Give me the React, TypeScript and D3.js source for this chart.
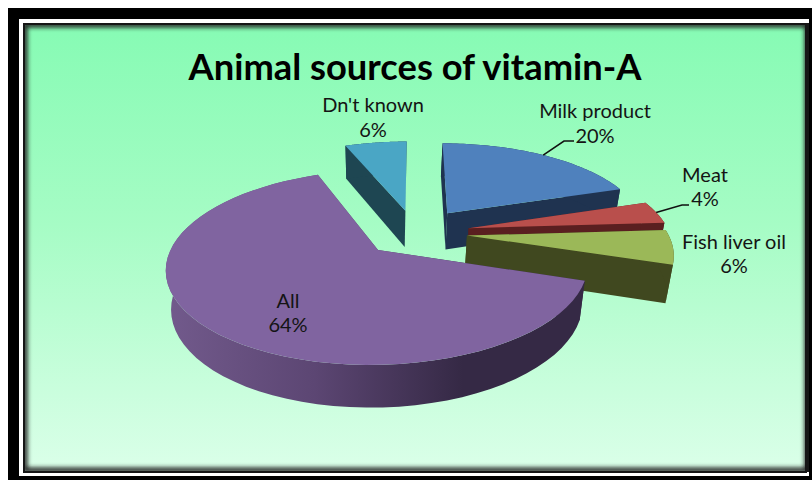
import React from "react";
import * as d3 from "d3";

// Chart data, in clockwise order from twelve o'clock
const categories = ["Milk product", "Meat", "Fish liver oil", "All", "Dn't known"];
const shares = [20, 4, 6, 64, 6];
const topColors = ["#4f81bd", "#b94f4c", "#9bb858", "#8064a0", "#4aa6c5"];
const wallColors = ["#1f3350", "#5a1f20", "#40481f", "url(#wallShade)", "#1e4652"];
const title = "Animal sources of vitamin-A";

// Label centres: [x, name baseline, share baseline]
const labelSpots: number[][] = [
  [595, 118, 143],
  [705, 182, 206],
  [734, 249, 273],
  [288, 308, 332],
  [373, 112, 137],
];
// Leader elbow and end for the slices that have one: [index, elbowX, elbowY, endX]
const leaders: number[][] = [
  [0, 564, 141, 574],
  [1, 682, 205, 689],
];
// How far each slice is pulled out of the pie
const explosions = [0.285, 0.275, 0.26, 0.26, 0.265];

// Tilted-plane projection of the pie's unit circle
const W = 812;
const H = 480;
const originX = 378;
const originY = 250;
const scaleX = 207.5;
const scaleY = 94.3;
const tilt = 0.18;
const skew = -0.07;
const centerPlane = { x: 0.178, y: -0.19 };
const depth = 38;
const converge = 0.975;

type Pt = [number, number];

function project(px: number, py: number): Pt {
  const d = 1 - tilt * py;
  const y = (scaleY * py) / d;
  const x = (scaleX * px) / d + skew * y;
  return [originX + x, originY + y];
}

function projectLow(px: number, py: number): Pt {
  const [x, y] = project(px, py);
  return [originX + (x - originX) * converge, y + depth / (1 - 0.11 * py)];
}

const pieLayout = d3.pie<number>().sort(null).value((d) => d);
const arcs = pieLayout(shares);

const slices = arcs.map((a, i) => {
  const mid = (a.startAngle + a.endAngle) / 2;
  const ax = centerPlane.x + explosions[i] * Math.sin(mid);
  const ay = centerPlane.y - explosions[i] * Math.cos(mid);
  const rim = d3.range(0, 61).map((k) => {
    const t = a.startAngle + ((a.endAngle - a.startAngle) * k) / 60;
    return [ax + Math.sin(t), ay - Math.cos(t)] as Pt;
  });
  return { i, mid, ax, ay, rim };
});

const path = d3.line<Pt>().x((d) => d[0]).y((d) => d[1]);
const closed = (pts: Pt[]) => (path(pts) as string) + "Z";

function Slice({ s }: { s: (typeof slices)[number] }) {
  const topRim = s.rim.map((p) => project(p[0], p[1]));
  const lowRim = s.rim.map((p) => projectLow(p[0], p[1]));
  const apexTop = project(s.ax, s.ay);
  const apexLow = projectLow(s.ax, s.ay);
  const wall = wallColors[s.i];
  const n = topRim.length - 1;
  return (
    <g>
      <path d={closed([apexTop, topRim[0], lowRim[0], apexLow])} fill={wall} />
      <path d={closed([apexTop, topRim[n], lowRim[n], apexLow])} fill={wall} />
      <path d={closed([...topRim, ...[...lowRim].reverse()])} fill={wall} />
      <path d={closed([apexTop, ...topRim])} fill={topColors[s.i]} />
    </g>
  );
}

export default function App() {
  const x0 = 27;
  const y0 = 27;
  const x1 = 805;
  const y1 = 468;
  return (
    <svg
      width={W}
      height={H}
      viewBox={`0 0 ${W} ${H}`}
      style={{ position: "absolute", left: 0, top: 0, background: "#fff" }}
    >
      <defs>
        <linearGradient id="panelFill" x1="0" y1="0" x2="0" y2="1">
          <stop offset="0" stopColor="#86fbb4" />
          <stop offset="0.45" stopColor="#a6fcc5" />
          <stop offset="1" stopColor="#dbffe9" />
        </linearGradient>
        <linearGradient id="wallShade" gradientUnits="userSpaceOnUse" x1="166" x2="590" y1="0" y2="0">
          <stop offset="0" stopColor="#725a8c" />
          <stop offset="0.35" stopColor="#5c4673" />
          <stop offset="0.7" stopColor="#352945" />
          <stop offset="1" stopColor="#352945" />
        </linearGradient>
        <filter id="edgeBlur" x="-5%" y="-5%" width="110%" height="110%">
          <feGaussianBlur stdDeviation="2.2" />
        </filter>
        <clipPath id="panelClip">
          <rect x={x0 - 4} y={y0 - 4} width={x1 - x0 + 8} height={y1 - y0 + 8} />
        </clipPath>
      </defs>

      {/* Triple frame: black, white, dark */}
      <rect x={8} y={8} width={W - 8} height={H - 8} fill="#000" />
      <rect x={19} y={19} width={790} height={457} fill="#fff" />
      <rect x={23} y={23} width={784} height={450} fill="#161616" />

      {/* Panel with a soft shadow along its inner edge */}
      <g clipPath="url(#panelClip)">
        <rect x={x0 - 4} y={y0 - 4} width={x1 - x0 + 8} height={y1 - y0 + 8} fill="url(#panelFill)" />
        <rect
          x={x0 - 2}
          y={y0 - 2}
          width={x1 - x0 + 4}
          height={y1 - y0 + 4}
          fill="none"
          stroke="#222"
          strokeWidth={5}
          filter="url(#edgeBlur)"
        />
        <rect x={23} y={23} width={784} height={450} fill="none" stroke="#161616" strokeWidth={4} />
      </g>

      <text
        x={415}
        y={80}
        textAnchor="middle"
        fontFamily="Lato, 'Open Sans', sans-serif"
        fontWeight={700}
        fontSize={36.3}
        fill="#000"
      >
        {title}
      </text>

      {/* Far slices first so that nearer ones overlap them */}
      {[4, 0, 1, 2, 3].map((i) => (
        <Slice key={categories[i]} s={slices[i]} />
      ))}

      {leaders.map(([i, ex, ey, endX]) => {
        const s = slices[i];
        const a = arcs[i];
        const t = (a.startAngle + a.endAngle) / 2;
        const anchor = project(s.ax + Math.sin(t), s.ay - Math.cos(t));
        const pts: Pt[] = [anchor, [ex, ey], [endX, ey]];
        return <path key={i} d={path(pts) as string} fill="none" stroke="#111" strokeWidth={1.6} />;
      })}

      {categories.map((c, i) => {
        const [x, y1Label, y2Label] = labelSpots[i];
        return (
          <g
            key={c}
            textAnchor="middle"
            fontFamily="Lato, 'Open Sans', sans-serif"
            fontSize={20}
            fill="#141414"
          >
            <text x={x} y={y1Label}>
              {c}
            </text>
            <text x={x} y={y2Label}>
              {shares[i]}%
            </text>
          </g>
        );
      })}
    </svg>
  );
}
